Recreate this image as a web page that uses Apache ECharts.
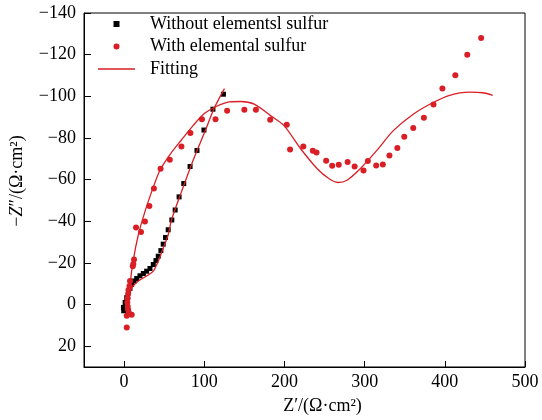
<html>
<head>
  <meta charset="utf-8">
  <title>Nyquist plot</title>
  <script src="https://cdn.jsdelivr.net/npm/echarts@6/dist/echarts.min.js"></script>
  <style>
    html, body { margin: 0; width: 100%; height: 100%; background: #fff; }
    #chart { width: 542px; height: 420px; }
  </style>
</head>
<body>
  <div id="chart"></div>
  <script>
    // [Z', -Z''] pairs
    var withoutSulfur = [
      [-0.5, 3], [-0.8, 1.4], [0, 1.4], [1.3, -1], [3.3, -3.3], [5.4, -5.7], [7.4, -7.8],
      [9.5, -9.7], [12.4, -11.3], [15.7, -12.5], [19.8, -13.8], [24, -14.9], [28.1, -16],
      [32.3, -17.3], [36.4, -19.2], [39.7, -21.1], [42.6, -23.2], [45.9, -25.9], [48.8, -29],
      [51.7, -32.2], [55, -35.9], [59.5, -40.6], [63.7, -45.4], [68.6, -51.7], [74.4, -58.1],
      [82.3, -66.3], [90.9, -74], [99.6, -83.8], [110.8, -93.8], [123.9, -101]
    ];
    var withSulfur = [
      [3.3, 11], [3.3, 5.4], [9.5, 4.9], [6, 4], [5, 2.5], [4.5, 1], [4, -1], [4.5, -3],
      [5, -5], [5.5, -7], [6.7, -8.9], [7.4, -11.3], [10.8, -18.4], [11.5, -19.5], [12.4, -21.6],
      [21.1, -34.8], [14.9, -37], [26, -39.9], [31.5, -47.3], [37.2, -55.7], [45.5, -65.2],
      [57, -69.5], [71.5, -75.9], [82.7, -82.4], [97.1, -89], [114, -89], [128.5, -93],
      [150, -93.5], [164.4, -93.5], [182.2, -88.7], [202.9, -86.3], [207, -74.4], [223.5, -75.9],
      [235.4, -73.8], [240, -73], [252, -69], [259.5, -66.7], [267.7, -67.1], [278.8, -68.4],
      [287.5, -66.3], [298.6, -64.4], [304, -68.9], [314.4, -66.8], [322.7, -67.3], [330.9, -71.6],
      [340.8, -75.2], [349.4, -80.6], [360.6, -84.8], [373.9, -89.7], [385.9, -96], [397, -103.7],
      [413.1, -110.1], [428, -120], [445.3, -128]
    ];
    var fitWithout = [
      [2, 2], [4, -3], [9.7, -8.1], [17.8, -11.3], [28.1, -13.7], [36.4, -16], [42.6, -20.8],
      [48.8, -27.1], [55, -33.5], [59.1, -40.6], [71.5, -54.1], [86, -69.2], [100.4, -82.7],
      [112.8, -94.6], [125.2, -103.7]
    ];
    var fitWith = [
      [5, 2], [7.4, -9.7], [11.6, -21.6], [17.8, -33.5], [26, -44.6], [34.3, -54.1], [44.6, -64.4],
      [57, -71.9], [71.5, -79], [86, -85.9], [100.4, -91.8], [114.9, -95.1], [131.3, -97.3],
      [145.8, -97.5], [162.3, -96.2], [183, -90.6], [199.5, -85.9], [220.2, -74.8], [240.9, -65.2],
      [255.3, -60.5], [266.4, -58.6], [278, -59.7], [294.5, -65.2], [315.2, -74], [335.8, -83.5],
      [360.6, -91.4], [385.4, -97], [406, -100.5], [430.9, -102], [447.3, -101.7], [459.7, -100.5]
    ];
    var xTicks = [0, 100, 200, 300, 400, 500];
    var seriesNames = ['Without elementsl sulfur', 'With elemental sulfur', 'Fitting'];

    var red = '#d91e25';
    var font = 'Liberation Serif';
    var chart = echarts.init(document.getElementById('chart'));

    chart.setOption({
      animation: false,
      textStyle: { fontFamily: font },
      grid: {
        left: 82, right: 17, top: 13, bottom: 50,
        show: true, borderColor: '#000', borderWidth: 1
      },
      legend: {
        orient: 'vertical',
        left: 93, top: 10,
        itemWidth: 37, itemHeight: 6, itemGap: 4.5,
        textStyle: { fontFamily: font, fontSize: 18, color: '#000', padding: [0, 0, 0, 10] },
        data: [
          { name: seriesNames[0], icon: 'path://M0 0H1V1H0Z' },
          { name: seriesNames[1] },
          { name: seriesNames[2], icon: 'path://M0 0H37V1.3H0Z' }
        ]
      },
      xAxis: {
        type: 'value',
        min: -50, max: 500,
        name: 'Z′/(Ω·cm²)',
        nameLocation: 'middle',
        nameGap: 30,
        nameTextStyle: { fontFamily: font, fontSize: 18, color: '#000', padding: [0, 0, 0, 36] },
        axisLine: { onZero: false, lineStyle: { color: '#000', width: 1 } },
        axisTick: { inside: true, length: 6, customValues: xTicks, lineStyle: { color: '#000' } },
        axisLabel: { customValues: xTicks, margin: 6, fontFamily: font, fontSize: 18, color: '#000' },
        splitLine: { show: false }
      },
      yAxis: {
        type: 'value',
        inverse: true,
        min: -140, max: 30, interval: 20,
        name: '−{i|Z}″/(Ω·cm²)',
        nameLocation: 'middle',
        nameGap: 58,
        nameTextStyle: {
          fontFamily: font, fontSize: 18, color: '#000', padding: [0, 0, 0, 18],
          rich: { i: { fontFamily: font, fontSize: 18, fontStyle: 'italic', color: '#000' } }
        },
        axisLine: { onZero: false, lineStyle: { color: '#000', width: 1 } },
        axisTick: { inside: true, length: 7, lineStyle: { color: '#000' } },
        axisLabel: {
          showMaxLabel: false,
          margin: 8, fontFamily: font, fontSize: 18, color: '#000',
          formatter: function (v) { return String(v).replace('-', '−'); }
        },
        splitLine: { show: false }
      },
      series: [
        {
          name: seriesNames[0], type: 'scatter', symbol: 'rect', symbolSize: 5,
          itemStyle: { color: '#000', opacity: 1 }, data: withoutSulfur
        },
        {
          name: seriesNames[1], type: 'scatter', symbol: 'circle', symbolSize: 6,
          itemStyle: { color: red, opacity: 1 }, data: withSulfur
        },
        {
          name: seriesNames[2], type: 'line', smooth: 0.3, symbol: 'none', showSymbol: false,
          lineStyle: { color: red, width: 1.3 }, itemStyle: { color: red }, data: fitWithout
        },
        {
          name: seriesNames[2], type: 'line', smooth: 0.3, symbol: 'none', showSymbol: false,
          lineStyle: { color: red, width: 1.3 }, itemStyle: { color: red }, data: fitWith
        }
      ]
    });
  </script>
</body>
</html>
